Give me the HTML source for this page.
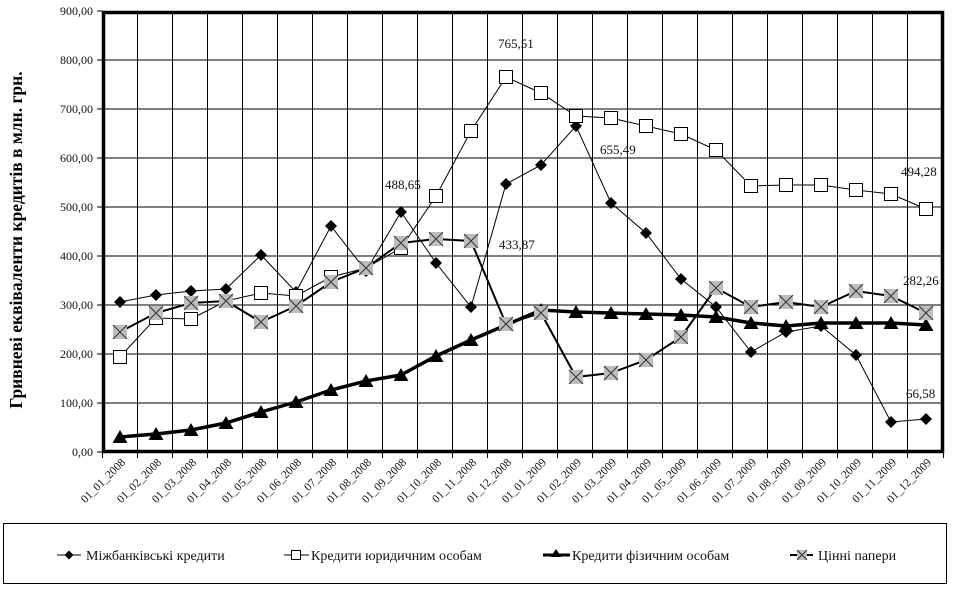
<!DOCTYPE html>
<html><head><meta charset="utf-8"><style>
body{margin:0;background:#fff}
svg{display:block}
svg text{font-family:"Liberation Serif","Times New Roman",serif}
</style></head><body>
<svg width="962" height="596" viewBox="0 0 962 596" xmlns="http://www.w3.org/2000/svg" font-family="Liberation Serif, serif">
<defs>
<path id="dia" d="M0,-6 L6,0 L0,6 L-6,0Z" fill="#000"/>
<rect id="sq" x="-6.5" y="-6.5" width="13" height="13" fill="#fff" stroke="#000" stroke-width="1"/>
<path id="tri" d="M0,-7 L7.5,6 L-7.5,6Z" fill="#000"/>
<g id="xm"><rect x="-7" y="-7" width="14" height="14" fill="#bdbdbd"/><path d="M-7,-7L7,7M7,-7L-7,7" stroke="#333" stroke-width="1"/></g>
</defs>
<g stroke="#000" stroke-width="1">
<path d="M102,60H944M102,109H944M102,158H944M102,207H944M102,256H944M102,305H944M102,354H944M102,403H944"/>
<path d="M137.5,11V452M172.5,11V452M207.5,11V452M242.5,11V452M277.5,11V452M312.5,11V452M347.5,11V452M382.5,11V452M417.5,11V452M452.5,11V452M487.5,11V452M522.5,11V452M557.5,11V452M592.5,11V452M627.5,11V452M662.5,11V452M697.5,11V452M732.5,11V452M767.5,11V452M802.5,11V452M837.5,11V452M872.5,11V452M907.5,11V452"/>
<path d="M97,11H102M97,60H102M97,109H102M97,158H102M97,207H102M97,256H102M97,305H102M97,354H102M97,403H102M97,452H102"/>
<path d="M102.5,452V458M137.5,452V458M172.5,452V458M207.5,452V458M242.5,452V458M277.5,452V458M312.5,452V458M347.5,452V458M382.5,452V458M417.5,452V458M452.5,452V458M487.5,452V458M522.5,452V458M557.5,452V458M592.5,452V458M627.5,452V458M662.5,452V458M697.5,452V458M732.5,452V458M767.5,452V458M802.5,452V458M837.5,452V458M872.5,452V458M907.5,452V458M943.5,452V458"/>
</g>
<rect x="103.5" y="12.5" width="839" height="439" fill="none" stroke="#000" stroke-width="3.5"/>
<g font-size="12" text-anchor="end" fill="#111">
<text x="93" y="15">900,00</text><text x="93" y="64">800,00</text><text x="93" y="113">700,00</text><text x="93" y="162">600,00</text><text x="93" y="211">500,00</text><text x="93" y="260">400,00</text><text x="93" y="309">300,00</text><text x="93" y="358">200,00</text><text x="93" y="407">100,00</text><text x="93" y="456">0,00</text>
</g>
<text transform="translate(22,240) rotate(-90)" text-anchor="middle" font-size="17.5" font-weight="bold">Гривневі еквіваленти кредитів в млн. грн.</text>
<polyline fill="none" stroke="#000" stroke-width="1" points="120,302 156,295 191,291 226,289 261,255 296,292 331,226 366,271 401,212 436,263 471,307 506,184 541,165 576,126 611,203 646,233 681,279 716,307 751,352 786,332 821,326 856,355 891,422 926,419"/>
<polyline fill="none" stroke="#000" stroke-width="1" points="120,357 156,318 191,319 226,301 261,293 296,296 331,277 366,268 401,248 436,196 471,131 506,77 541,93 576,116 611,118 646,126 681,134 716,150 751,186 786,185 821,185 856,190 891,194 926,209"/>
<polyline fill="none" stroke="#000" stroke-width="3.5" points="120,437 156,434 191,430 226,423 261,412 296,402 331,390 366,381 401,375 436,356 471,340 506,325 541,310 576,312 611,313 646,314 681,315 716,317 751,323 786,326 821,323 856,323 891,323 926,325"/>
<polyline fill="none" stroke="#000" stroke-width="2" points="120,332 156,313 191,303 226,301 261,322 296,306 331,282 366,268 401,243 436,239 471,241 506,324 541,313 576,377 611,373 646,360 681,337 716,288 751,307 786,302 821,307 856,291 891,296 926,313"/>
<g>
<use href="#dia" x="120" y="302"/><use href="#dia" x="156" y="295"/><use href="#dia" x="191" y="291"/><use href="#dia" x="226" y="289"/><use href="#dia" x="261" y="255"/><use href="#dia" x="296" y="292"/><use href="#dia" x="331" y="226"/><use href="#dia" x="366" y="271"/><use href="#dia" x="401" y="212"/><use href="#dia" x="436" y="263"/><use href="#dia" x="471" y="307"/><use href="#dia" x="506" y="184"/><use href="#dia" x="541" y="165"/><use href="#dia" x="576" y="126"/><use href="#dia" x="611" y="203"/><use href="#dia" x="646" y="233"/><use href="#dia" x="681" y="279"/><use href="#dia" x="716" y="307"/><use href="#dia" x="751" y="352"/><use href="#dia" x="786" y="332"/><use href="#dia" x="821" y="326"/><use href="#dia" x="856" y="355"/><use href="#dia" x="891" y="422"/><use href="#dia" x="926" y="419"/>
</g>
<g>
<use href="#sq" x="120" y="357"/><use href="#sq" x="156" y="318"/><use href="#sq" x="191" y="319"/><use href="#sq" x="226" y="301"/><use href="#sq" x="261" y="293"/><use href="#sq" x="296" y="296"/><use href="#sq" x="331" y="277"/><use href="#sq" x="366" y="268"/><use href="#sq" x="401" y="248"/><use href="#sq" x="436" y="196"/><use href="#sq" x="471" y="131"/><use href="#sq" x="506" y="77"/><use href="#sq" x="541" y="93"/><use href="#sq" x="576" y="116"/><use href="#sq" x="611" y="118"/><use href="#sq" x="646" y="126"/><use href="#sq" x="681" y="134"/><use href="#sq" x="716" y="150"/><use href="#sq" x="751" y="186"/><use href="#sq" x="786" y="185"/><use href="#sq" x="821" y="185"/><use href="#sq" x="856" y="190"/><use href="#sq" x="891" y="194"/><use href="#sq" x="926" y="209"/>
</g>
<g>
<use href="#tri" x="120" y="437"/><use href="#tri" x="156" y="434"/><use href="#tri" x="191" y="430"/><use href="#tri" x="226" y="423"/><use href="#tri" x="261" y="412"/><use href="#tri" x="296" y="402"/><use href="#tri" x="331" y="390"/><use href="#tri" x="366" y="381"/><use href="#tri" x="401" y="375"/><use href="#tri" x="436" y="356"/><use href="#tri" x="471" y="340"/><use href="#tri" x="506" y="325"/><use href="#tri" x="541" y="310"/><use href="#tri" x="576" y="312"/><use href="#tri" x="611" y="313"/><use href="#tri" x="646" y="314"/><use href="#tri" x="681" y="315"/><use href="#tri" x="716" y="317"/><use href="#tri" x="751" y="323"/><use href="#tri" x="786" y="326"/><use href="#tri" x="821" y="323"/><use href="#tri" x="856" y="323"/><use href="#tri" x="891" y="323"/><use href="#tri" x="926" y="325"/>
</g>
<g>
<use href="#xm" x="120" y="332"/><use href="#xm" x="156" y="313"/><use href="#xm" x="191" y="303"/><use href="#xm" x="226" y="301"/><use href="#xm" x="261" y="322"/><use href="#xm" x="296" y="306"/><use href="#xm" x="331" y="282"/><use href="#xm" x="366" y="268"/><use href="#xm" x="401" y="243"/><use href="#xm" x="436" y="239"/><use href="#xm" x="471" y="241"/><use href="#xm" x="506" y="324"/><use href="#xm" x="541" y="313"/><use href="#xm" x="576" y="377"/><use href="#xm" x="611" y="373"/><use href="#xm" x="646" y="360"/><use href="#xm" x="681" y="337"/><use href="#xm" x="716" y="288"/><use href="#xm" x="751" y="307"/><use href="#xm" x="786" y="302"/><use href="#xm" x="821" y="307"/><use href="#xm" x="856" y="291"/><use href="#xm" x="891" y="296"/><use href="#xm" x="926" y="313"/>
</g>
<g font-size="13" fill="#111">
<text x="385" y="189">488,65</text>
<text x="498" y="48">765,51</text>
<text x="600" y="154">655,49</text>
<text x="499" y="249">433,87</text>
<text x="901" y="176">494,28</text>
<text x="903" y="285">282,26</text>
<text x="906" y="398">66,58</text>
</g>
<g font-size="11.5" text-anchor="end" fill="#111">
<text transform="translate(126,463) rotate(-45)">01_01_2008</text>
<text transform="translate(162,463) rotate(-45)">01_02_2008</text>
<text transform="translate(197,463) rotate(-45)">01_03_2008</text>
<text transform="translate(232,463) rotate(-45)">01_04_2008</text>
<text transform="translate(267,463) rotate(-45)">01_05_2008</text>
<text transform="translate(302,463) rotate(-45)">01_06_2008</text>
<text transform="translate(337,463) rotate(-45)">01_07_2008</text>
<text transform="translate(372,463) rotate(-45)">01_08_2008</text>
<text transform="translate(407,463) rotate(-45)">01_09_2008</text>
<text transform="translate(442,463) rotate(-45)">01_10_2008</text>
<text transform="translate(477,463) rotate(-45)">01_11_2008</text>
<text transform="translate(512,463) rotate(-45)">01_12_2008</text>
<text transform="translate(547,463) rotate(-45)">01_01_2009</text>
<text transform="translate(582,463) rotate(-45)">01_02_2009</text>
<text transform="translate(617,463) rotate(-45)">01_03_2009</text>
<text transform="translate(652,463) rotate(-45)">01_04_2009</text>
<text transform="translate(687,463) rotate(-45)">01_05_2009</text>
<text transform="translate(722,463) rotate(-45)">01_06_2009</text>
<text transform="translate(757,463) rotate(-45)">01_07_2009</text>
<text transform="translate(792,463) rotate(-45)">01_08_2009</text>
<text transform="translate(827,463) rotate(-45)">01_09_2009</text>
<text transform="translate(862,463) rotate(-45)">01_10_2009</text>
<text transform="translate(897,463) rotate(-45)">01_11_2009</text>
<text transform="translate(932,463) rotate(-45)">01_12_2009</text>
</g>
<rect x="3.5" y="523.5" width="943" height="60" fill="#fff" stroke="#000" stroke-width="1"/>
<path d="M57,555H81" stroke="#000" stroke-width="1"/>
<path d="M64.5,555 L69,550.5 L73.5,555 L69,559.5Z" fill="#000"/>
<path d="M284,555H309" stroke="#000"/><rect x="291.5" y="550.5" width="9" height="9" fill="#fff" stroke="#000"/>
<path d="M543,555H570" stroke="#000" stroke-width="3"/><path d="M556,549 L561.5,557 L550.5,557Z" fill="#000"/>
<path d="M790,555H813" stroke="#000" stroke-width="2"/><rect x="797" y="550" width="10" height="10" fill="#bdbdbd"/><path d="M797,550L807,560M807,550L797,560" stroke="#333"/>
<g font-size="14" fill="#111">
<text x="86" y="560">Міжбанківські кредити</text>
<text x="311" y="560">Кредити юридичним особам</text>
<text x="572" y="560">Кредити фізичним особам</text>
<text x="818" y="560">Цінні папери</text>
</g>
</svg>
</body></html>
